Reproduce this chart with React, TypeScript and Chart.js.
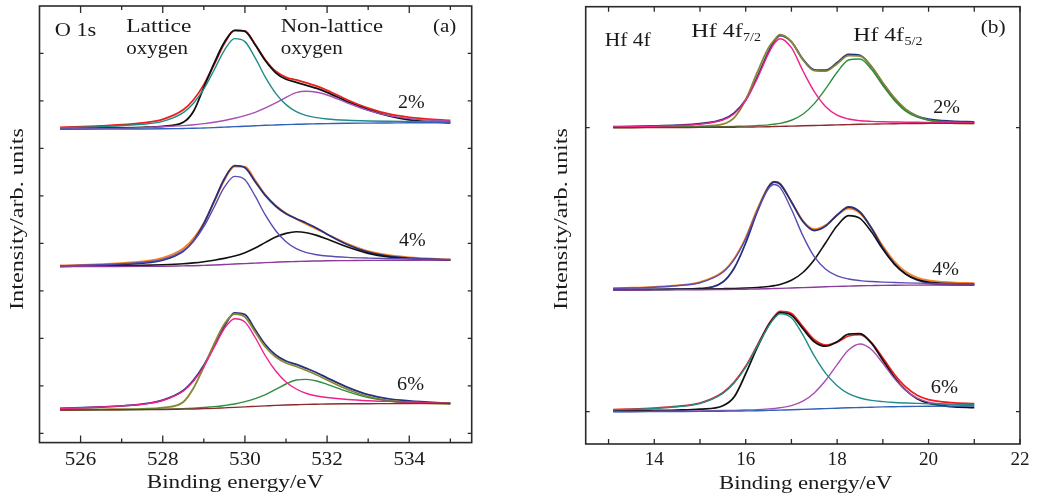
import React, { useEffect, useRef } from 'react';
import { Chart, registerables } from 'chart.js';

Chart.register(...registerables);

// ---------------- Panel (a): O 1s ----------------
const A_ENERGY = [525.5, 526.5, 527.5, 528, 528.5, 528.75, 529, 529.25, 529.5, 529.75, 530, 530.25, 530.5, 530.75, 531, 531.25, 531.5, 531.75, 532, 532.5, 533, 533.5, 534, 535];
const A_SAMPLES = ['2%', '4%', '6%'];
const A_OFFSETS = [304, 166.6, 23.3];

// 2 %
const A2_BACKGROUND = [0, 0.17, 0.33, 0.5, 0.83, 1, 1.33, 1.67, 2.17, 2.67, 3, 3.5, 4, 4.33, 4.67, 5, 5.33, 5.5, 5.67, 6, 6.17, 6.33, 6.5, 6.67];
const A2_LATTICE = [1.67, 2.67, 5, 8, 16.67, 26, 40.33, 59.33, 79, 90.67, 87.67, 71.33, 52, 36, 24.67, 17.67, 13.67, 11.67, 10.33, 9, 8.33, 8, 7.83, 7.5];
const A2_NONLATTICE = [0.33, 0.83, 1.67, 2.5, 3.67, 4.5, 5.67, 7, 8.83, 11, 13.67, 17, 21.33, 26.33, 32, 36.67, 38, 37, 34.33, 26.33, 19, 13.67, 10.67, 8];
const A2_RAW = [1, 1.33, 2, 3, 7, 18, 42, 66, 87, 99, 98, 84.5, 68.5, 56.5, 50, 47, 44, 41, 37, 27.5, 19.5, 13.5, 9.5, 6.5];
const A2_FIT = [2.0, 3.33, 6.33, 10, 19.5, 29.5, 44.67, 64.67, 85.67, 99, 98.33, 84.83, 69.33, 58, 52, 49.33, 46.33, 43.17, 39, 29.33, 21.17, 15.33, 12, 8.83];
// 4 %
const A4_BACKGROUND = [0, 0.17, 0.33, 0.5, 0.83, 1, 1.33, 1.67, 2.17, 2.67, 3.1, 3.6, 4.1, 4.5, 4.9, 5.2, 5.5, 5.7, 5.9, 6.1, 6.3, 6.4, 6.5, 6.67];
const A4_LATTICE = [1.0, 2.0, 4.3, 7.3, 16, 25.5, 40, 59.5, 79.5, 90.3, 87, 70.5, 51.5, 36, 25, 18, 14, 12, 10.7, 9.3, 8.6, 8.2, 7.9, 7.3];
const A4_NONLATTICE = [0.33, 0.67, 1.33, 2, 3, 3.83, 5, 6.5, 8.33, 10.67, 14, 18.67, 24.33, 29.67, 33.33, 35, 34, 31.33, 27.67, 19.67, 13.33, 9.67, 8, 6.67];
const A4_RAW = [0.67, 1.5, 3.5, 6.5, 15.5, 26, 43, 65.5, 88, 101, 99, 85, 71, 60.5, 53, 48, 43.5, 38.5, 32.5, 22, 14.5, 10.5, 8.5, 6.5];
const A4_FIT = [1.33, 2.5, 5.3, 8.8, 18.2, 28.3, 43.7, 64.5, 86.5, 100, 100, 86.5, 72, 61.2, 53.4, 47.8, 42.5, 37.6, 32.5, 22.9, 15.6, 11.5, 9.4, 7.3];
// 6 %
const A6_BACKGROUND = [0, 0.17, 0.33, 0.5, 0.83, 1, 1.33, 1.67, 2.17, 2.67, 3.1, 3.6, 4.1, 4.6, 5, 5.3, 5.6, 5.8, 6, 6.2, 6.3, 6.4, 6.5, 6.67];
const A6_LATTICE = [1.67, 3, 5.7, 9.5, 19, 29, 43.5, 62.5, 81.5, 91.3, 88, 72.5, 54, 39, 28, 21, 16.5, 14, 12.5, 10.5, 9.3, 8.6, 8, 6.7];
const A6_NONLATTICE = [0, 0.17, 0.5, 0.83, 1.33, 1.83, 2.5, 3.33, 4.5, 6, 8.33, 11.33, 15.33, 20.67, 26, 30, 30.67, 29, 25.67, 18.33, 12.33, 9, 7.67, 6.67];
const A6_RAW = [0.5, 0.7, 1.2, 2.3, 8, 22, 43, 66, 86, 96, 93, 78, 63, 53, 47, 43.5, 39.5, 35, 30, 20.5, 13.5, 9.5, 7.5, 6];
const A6_FIT = [1.67, 3, 5.87, 9.83, 19.5, 29.83, 44.67, 64.17, 83.83, 97, 95.5, 80.23, 65.23, 55.07, 49, 45.7, 41.57, 37.2, 32.17, 22.63, 15.33, 11.2, 9.17, 6.7];

const A_X_MAJOR = [526, 528, 530, 532, 534];
const A_X_MINOR = [527, 529, 531, 533, 535];
const A_Y_TICKS = [0, 47.5, 95, 142.5, 190, 237.5, 285, 332.5, 380];

// ---------------- Panel (b): Hf 4f ----------------
const B_ENERGY = [13.1, 13.5, 14, 14.5, 15, 15.5, 15.75, 16, 16.25, 16.5, 16.625, 16.75, 17, 17.25, 17.5, 17.75, 18, 18.25, 18.5, 18.75, 19, 19.25, 19.5, 19.75, 20, 20.5, 21];
const B_SAMPLES = ['2%', '4%', '6%'];
const B_OFFSETS = [284, 121.7, 0];

// 2 %
const B2_BACKGROUND = [0, 0, 0.1, 0.2, 0.3, 0.4, 0.5, 0.6, 0.8, 1.0, 1.15, 1.3, 1.6, 1.9, 2.2, 2.5, 2.8, 3.1, 3.4, 3.6, 3.8, 4.0, 4.1, 4.2, 4.3, 4.33, 4.33];
const B2_F72 = [0.8, 1.0, 1.47, 2.2, 3.55, 7.7, 14, 27, 49, 74.3, 84.2, 89, 80, 57, 36, 21, 12.5, 8.7, 7.0, 6.3, 5.9, 5.7, 5.5, 5.4, 5.3, 5.1, 4.9];
const B2_F52 = [0.23, 0.27, 0.43, 0.6, 0.83, 1.12, 1.35, 1.62, 2.12, 2.87, 3.5, 4.35, 7.47, 13.5, 24.1, 39, 55.4, 67.7, 68.7, 58.4, 42.2, 27.5, 16.6, 10.5, 7.6, 5.73, 5.2];
const B2_RAW = [0.5, 0.6, 0.8, 1.0, 1.5, 3.5, 10, 28, 55, 80, 87.5, 93, 86, 68, 57, 56.5, 64, 72, 71.5, 61, 45, 30, 18.5, 11.5, 7.5, 4.5, 4];
const B2_FIT = [1.03, 1.27, 1.8, 2.6, 4.08, 8.42, 14.85, 28.02, 50.32, 76.17, 86.5, 92.05, 85.87, 68.6, 57.9, 57.5, 65.1, 73.3, 72.3, 61.1, 44.3, 29.2, 18, 11.7, 8.6, 6.5, 5.77];
// 4 %
const B4_BACKGROUND = [0, 0, 0.1, 0.2, 0.3, 0.5, 0.6, 0.8, 1.0, 1.3, 1.45, 1.6, 2.0, 2.4, 2.8, 3.2, 3.6, 3.9, 4.2, 4.4, 4.6, 4.75, 4.85, 4.9, 4.95, 5, 5];
const B4_F72 = [1.55, 1.96, 2.82, 4.24, 7.28, 17.7, 30.6, 51.3, 79, 101.5, 105.5, 102.6, 80.7, 54.4, 33.3, 20.8, 14.2, 11, 9.4, 8.5, 7.9, 7.5, 7.15, 6.87, 6.65, 6.3, 6.02];
const B4_F52 = [0.25, 0.28, 0.46, 0.68, 0.9, 1.31, 1.56, 1.96, 2.54, 3.56, 4.35, 5.48, 9.67, 17.5, 30.3, 47.3, 64.2, 74.4, 71.6, 58.1, 40.6, 25.9, 15.85, 10.47, 7.95, 6.35, 5.88];
const B4_RAW = [0.3, 0.4, 0.6, 0.8, 1.5, 8, 22, 47, 78, 103, 108, 106, 88, 68.5, 59.5, 64, 75, 83, 78, 62, 42, 26.5, 16, 10, 7, 5.2, 5];
const B4_FIT = [1.8, 2.24, 3.18, 4.72, 7.88, 18.5, 31.56, 52.46, 80.54, 103.8, 108.4, 106.5, 88.37, 69.5, 60.8, 64.9, 74.8, 81.5, 76.8, 62.2, 43.9, 28.65, 18.15, 12.44, 9.65, 7.65, 6.9];
// 6 %
const B6_BACKGROUND = [0, 0, 0.1, 0.2, 0.3, 0.5, 0.6, 0.8, 1.0, 1.3, 1.45, 1.6, 1.9, 2.3, 2.7, 3.1, 3.5, 3.9, 4.2, 4.5, 4.8, 5.0, 5.2, 5.35, 5.45, 5.6, 5.67];
const B6_F72 = [1.9, 2.37, 3.31, 4.88, 8.22, 18.35, 28.8, 44.45, 65, 85.6, 93.45, 98, 93.9, 76.8, 55.8, 38.3, 26, 18, 13.66, 11.29, 10.03, 9.18, 8.69, 8.31, 7.99, 7.53, 7.17];
const B6_F52 = [0.2, 0.24, 0.39, 0.57, 0.78, 1.14, 1.36, 1.7, 2.09, 2.81, 3.27, 3.89, 6.08, 10.49, 18.8, 31.4, 47.1, 61.6, 67.7, 62.2, 48.4, 33.3, 21.3, 13.54, 9.63, 7.11, 6.57];
const B6_RAW = [1, 1.1, 1.3, 1.6, 2.5, 6, 15, 38, 64, 86.5, 94, 99, 96.5, 83, 70, 65.5, 70, 77.5, 78, 68.5, 51.5, 34.5, 21.5, 13, 8.5, 5, 4];
const B6_FIT = [2.1, 2.61, 3.6, 5.25, 8.7, 18.99, 29.56, 45.35, 66.09, 87.11, 95.27, 100.29, 98.08, 84.99, 71.9, 66.6, 69.6, 75.7, 77.16, 68.99, 53.63, 37.48, 24.79, 16.5, 12.17, 9.04, 8.07];

const B_X_MAJOR = [14, 16, 18, 20, 22];
const B_X_MINOR = [13, 15, 17, 19, 21];
const B_Y_TICKS = [0, 284];

// ---------------- colours ----------------
const C = {
  black: '#111111',
  red: '#ee1c1c',
  teal: '#1f8c88',
  violet: '#a94eb3',
  blue: '#3262b8',
  navy: '#252f7c',
  orange: '#f7811e',
  slate: '#5a4db2',
  purple: '#8a3c9c',
  olive: '#878735',
  pink: '#f0228a',
  green: '#2e8e3e',
  brown: '#8c2a2a',
};
const TEXT = '#1a1a1a';
const FONT = '"Liberation Serif", "Times New Roman", serif';

type Series = { values: number[]; offset: number; color: string; width: number };
type TextItem = { t: string; x: number; y: number; w: number; size: number; rot?: number; align?: CanvasTextAlign };

const seriesSet = (offset: number, list: [number[], string, number][]): Series[] =>
  list.map(([values, color, width]) => ({ values, offset, color, width }));

const A_SERIES: Series[] = [
  ...seriesSet(A_OFFSETS[0], [[A2_BACKGROUND, C.blue, 1.4], [A2_LATTICE, C.teal, 1.4], [A2_NONLATTICE, C.violet, 1.4], [A2_RAW, C.black, 1.8], [A2_FIT, C.red, 1.8]]),
  ...seriesSet(A_OFFSETS[1], [[A4_BACKGROUND, C.purple, 1.4], [A4_LATTICE, C.slate, 1.4], [A4_NONLATTICE, C.black, 1.6], [A4_RAW, C.navy, 1.8], [A4_FIT, C.orange, 1.8]]),
  ...seriesSet(A_OFFSETS[2], [[A6_BACKGROUND, C.brown, 1.4], [A6_LATTICE, C.pink, 1.4], [A6_NONLATTICE, C.green, 1.4], [A6_RAW, C.olive, 1.8], [A6_FIT, C.navy, 1.8]]),
];

const B_SERIES: Series[] = [
  ...seriesSet(B_OFFSETS[0], [[B2_BACKGROUND, C.brown, 1.4], [B2_F72, C.pink, 1.4], [B2_F52, C.green, 1.4], [B2_RAW, C.olive, 1.8], [B2_FIT, C.navy, 1.8]]),
  ...seriesSet(B_OFFSETS[1], [[B4_BACKGROUND, C.purple, 1.4], [B4_F72, C.slate, 1.4], [B4_F52, C.black, 1.6], [B4_RAW, C.navy, 1.8], [B4_FIT, C.orange, 1.8]]),
  ...seriesSet(B_OFFSETS[2], [[B6_BACKGROUND, C.blue, 1.4], [B6_F72, C.teal, 1.4], [B6_F52, C.violet, 1.4], [B6_RAW, C.black, 1.8], [B6_FIT, C.red, 1.8]]),
];

type PanelDef = {
  left: number;
  width: number;
  height: number;
  area: { left: number; top: number; right: number; bottom: number };
  xMin: number; xMax: number; yMin: number; yMax: number;
  energy: number[];
  series: Series[];
  xMajor: number[]; xMinor: number[]; yTicks: number[];
  majorLen: number; minorLen: number; yTickLen: number;
  tickSx: number; tickBaseline: number;
  texts: TextItem[];
};

const Y_TITLE = 'Intensity/arb. units';
const X_TITLE = 'Binding energy/eV';

const PANEL_A: PanelDef = {
  left: 0, width: 520, height: 497,
  area: { left: 39.5, top: 6, right: 471.7, bottom: 442.6 },
  xMin: 525, xMax: 535.52, yMin: -9.3, yMax: 427.3,
  energy: A_ENERGY, series: A_SERIES,
  xMajor: A_X_MAJOR, xMinor: A_X_MINOR, yTicks: A_Y_TICKS,
  majorLen: 7, minorLen: 4, yTickLen: 4,
  tickSx: 1.17, tickBaseline: 465,
  texts: [
    { t: 'O 1s', x: 54.7, y: 36, w: 41.6, size: 18 },
    { t: 'Lattice', x: 126.3, y: 31.7, w: 65, size: 18 },
    { t: 'oxygen', x: 126.3, y: 53.5, w: 61.7, size: 18 },
    { t: 'Non-lattice', x: 280.7, y: 31.7, w: 102.3, size: 18 },
    { t: 'oxygen', x: 280.7, y: 53.5, w: 62, size: 18 },
    { t: '(a)', x: 433, y: 32, w: 23.3, size: 18 },
    { t: A_SAMPLES[0], x: 398, y: 108.3, w: 26.7, size: 18 },
    { t: A_SAMPLES[1], x: 399, y: 245.5, w: 26.7, size: 18 },
    { t: A_SAMPLES[2], x: 397, y: 389.5, w: 27, size: 18 },
    { t: X_TITLE, x: 146.7, y: 488.3, w: 176.7, size: 18 },
    { t: Y_TITLE, x: 22.7, y: 219, w: 182, size: 19, rot: -Math.PI / 2, align: 'center' },
  ],
};

const PANEL_B: PanelDef = {
  left: 520, width: 520, height: 497,
  area: { left: 65.7, top: 6.7, right: 500, bottom: 444 },
  xMin: 12.5, xMax: 22, yMin: -32.3, yMax: 405,
  energy: B_ENERGY, series: B_SERIES,
  xMajor: B_X_MAJOR, xMinor: B_X_MINOR, yTicks: B_Y_TICKS,
  majorLen: 5, minorLen: 5, yTickLen: 4,
  tickSx: 1.06, tickBaseline: 465,
  texts: [
    { t: 'Hf 4f', x: 604.7, y: 46, w: 46, size: 18 },
    { t: 'Hf 4f', x: 691.3, y: 37.3, w: 51.4, size: 18 },
    { t: '7/2', x: 743, y: 40.5, w: 18, size: 12 },
    { t: 'Hf 4f', x: 853.3, y: 41.3, w: 50.7, size: 18 },
    { t: '5/2', x: 904.5, y: 44.5, w: 18, size: 12 },
    { t: '(b)', x: 980.7, y: 33, w: 25, size: 18 },
    { t: B_SAMPLES[0], x: 933.3, y: 113, w: 26.7, size: 18 },
    { t: B_SAMPLES[1], x: 932.3, y: 275, w: 26.7, size: 18 },
    { t: B_SAMPLES[2], x: 930.7, y: 393, w: 27.3, size: 18 },
    { t: X_TITLE, x: 719, y: 489.3, w: 173.3, size: 18 },
    { t: Y_TITLE, x: 566.7, y: 219, w: 182, size: 19, rot: -Math.PI / 2, align: 'center' },
  ],
};

function drawText(ctx: CanvasRenderingContext2D, item: TextItem, dx: number, sxFixed?: number) {
  ctx.save();
  ctx.font = `${item.size}px ${FONT}`;
  const measured = ctx.measureText(item.t).width || 1;
  const sx = sxFixed ?? item.w / measured;
  ctx.translate(item.x - dx, item.y);
  if (item.rot) ctx.rotate(item.rot);
  ctx.scale(sx, 1);
  ctx.textAlign = item.align ?? 'left';
  ctx.textBaseline = 'alphabetic';
  ctx.fillStyle = TEXT;
  ctx.fillText(item.t, 0, 0);
  ctx.restore();
}

function decorPlugin(def: PanelDef) {
  return {
    id: 'decor',
    afterDraw(chart: Chart) {
      const ctx = chart.ctx;
      const { left, right, top, bottom } = chart.chartArea;
      const xs = chart.scales.x;
      const ys = chart.scales.y;
      ctx.save();
      ctx.strokeStyle = '#2a2a2a';
      ctx.lineWidth = 1.3;
      ctx.beginPath();
      const xTick = (v: number, len: number) => {
        const px = xs.getPixelForValue(v);
        ctx.moveTo(px, bottom);
        ctx.lineTo(px, bottom - len);
        ctx.moveTo(px, top);
        ctx.lineTo(px, top + len);
      };
      def.xMajor.forEach((v) => xTick(v, def.majorLen));
      def.xMinor.forEach((v) => xTick(v, def.minorLen));
      def.yTicks.forEach((v) => {
        const py = ys.getPixelForValue(v);
        ctx.moveTo(left, py);
        ctx.lineTo(left + def.yTickLen, py);
        ctx.moveTo(right, py);
        ctx.lineTo(right - def.yTickLen, py);
      });
      ctx.stroke();
      ctx.lineWidth = 1.6;
      ctx.strokeRect(left, top, right - left, bottom - top);
      ctx.restore();

      def.xMajor.forEach((v) => {
        const px = xs.getPixelForValue(v);
        drawText(ctx, { t: String(v), x: px, y: def.tickBaseline, w: 0, size: 18, align: 'center' }, 0, def.tickSx);
      });
      def.texts.forEach((item) => drawText(ctx, item, def.left));
    },
  };
}

function Panel({ def }: { def: PanelDef }) {
  const ref = useRef<HTMLCanvasElement>(null);
  useEffect(() => {
    const canvas = ref.current;
    if (!canvas) return;
    const chart = new Chart(canvas, {
      type: 'line',
      data: {
        datasets: def.series.map((s) => ({
          data: def.energy.map((e, i) => ({ x: e, y: s.offset + s.values[i] })),
          borderColor: s.color,
          borderWidth: s.width,
          pointRadius: 0,
          fill: false,
          cubicInterpolationMode: 'monotone' as const,
        })),
      },
      options: {
        responsive: false,
        animation: false,
        devicePixelRatio: 1,
        events: [],
        layout: {
          padding: {
            left: def.area.left,
            top: def.area.top,
            right: def.width - def.area.right,
            bottom: def.height - def.area.bottom,
          },
        },
        scales: {
          x: { type: 'linear', display: false, min: def.xMin, max: def.xMax, bounds: 'data' },
          y: { type: 'linear', display: false, min: def.yMin, max: def.yMax, bounds: 'data' },
        },
        plugins: { legend: { display: false }, tooltip: { enabled: false } },
      },
      plugins: [decorPlugin(def)],
    });
    return () => chart.destroy();
  }, [def]);
  return (
    <canvas
      ref={ref}
      width={def.width}
      height={def.height}
      style={{ position: 'absolute', left: def.left, top: 0, width: def.width, height: def.height }}
    />
  );
}

export default function App() {
  return (
    <div style={{ position: 'absolute', left: 0, top: 0, width: 1040, height: 497, background: '#ffffff', overflow: 'hidden' }}>
      <Panel def={PANEL_A} />
      <Panel def={PANEL_B} />
    </div>
  );
}
